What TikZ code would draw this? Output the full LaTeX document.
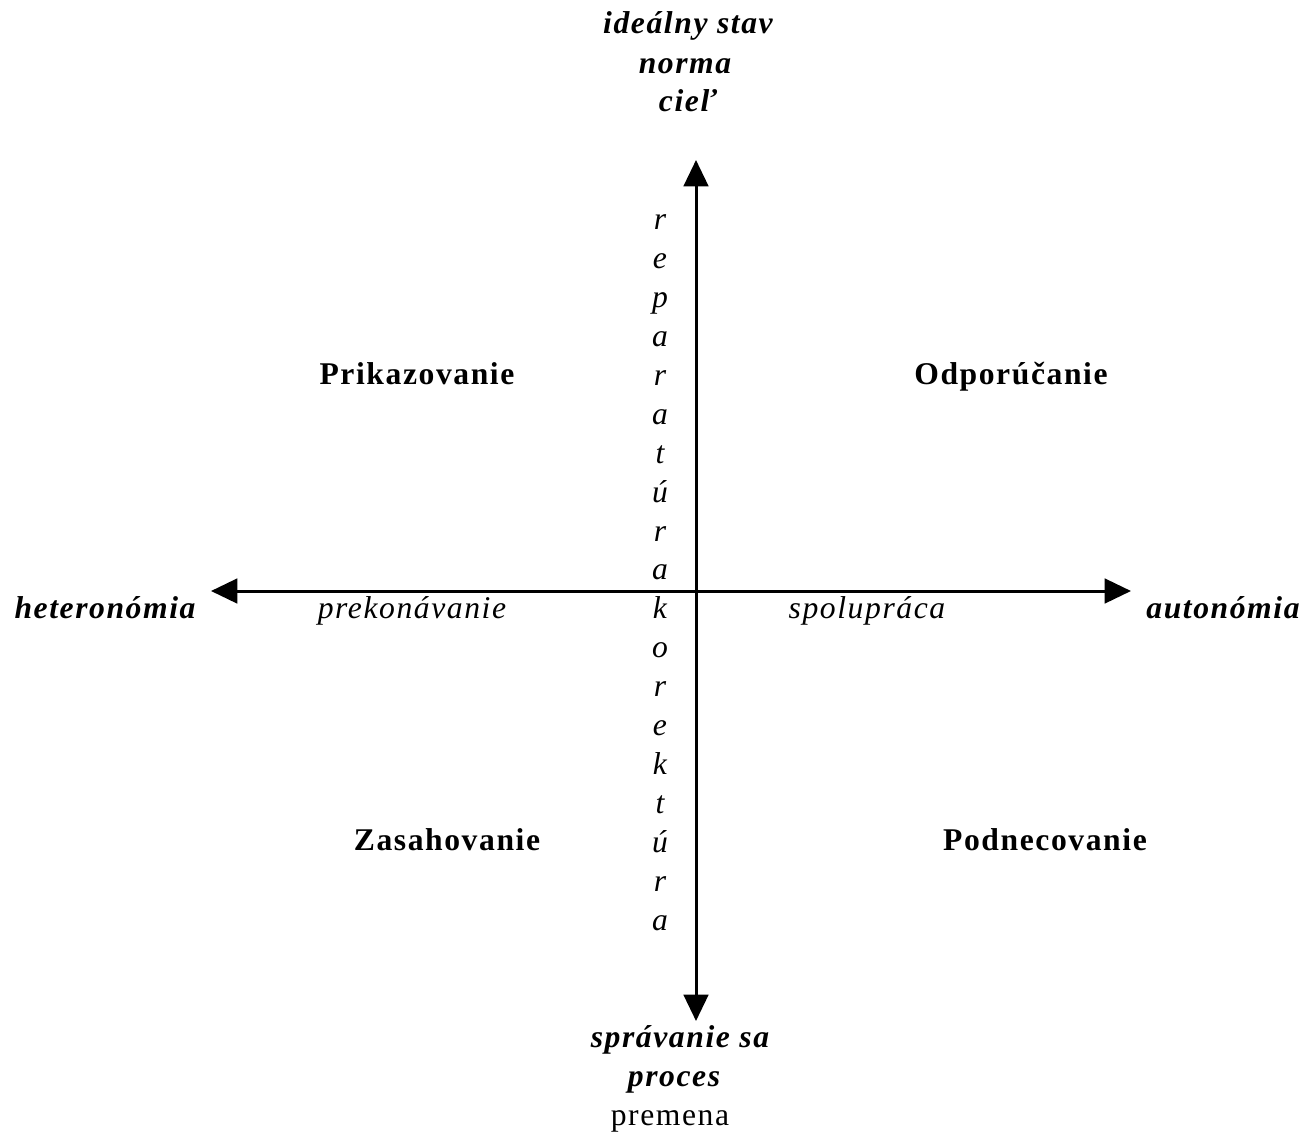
\documentclass[tikz,border=0pt]{standalone}
\usepackage{fontspec}
\setmainfont{Liberation Serif}[LetterSpace=5]
\usetikzlibrary{arrows.meta, positioning}

\tikzset{
  axis/.style={line width=1.7pt, {Triangle[length=15pt, width=14pt]}-{Triangle[length=15pt, width=14pt]}},
  txt/.style={inner sep=0pt, text height=1.4ex, text depth=0.25ex, yshift=-2.8pt, font=\fontsize{18}{22}\selectfont},
  pole/.style={txt, font=\fontsize{18}{22}\selectfont\bfseries\itshape},
  quadrant/.style={txt, font=\fontsize{18}{22}\selectfont\bfseries},
  process/.style={txt, font=\fontsize{18}{22}\selectfont\itshape},
  letter/.style={txt, font=\fontsize{18}{22}\selectfont\itshape}
}

\begin{document}
\begin{tikzpicture}[x=0.02cm, y=-0.02cm]

% Frame of the picture
\useasboundingbox (0,0) rectangle (1305,1133);

% Axis ends
\coordinate (top) at (696,160);
\coordinate (bottom) at (696,1021);
\coordinate (left) at (211,591);
\coordinate (right) at (1131,591);

% Axes
\draw[axis] (left) -- (right);
\draw[axis] (bottom) -- (top);

% Poles of the vertical axis
\node[pole] (ideal) at (688,24) {ideálny stav};
\node[pole] (norma) at (685,64) {norma};
\node[pole] (ciel) at (688,102) {cieľ};
\node[pole] (spravanie) at (680,1038) {správanie sa};
\node[pole] (proces) at (674,1077) {proces};
\node[txt] (premena) at (670,1116) {premena};

% Poles of the horizontal axis
\node[pole] (hetero) at (105,609) {heteronómia};
\node[pole] (auto) at (1223,609) {autonómia};

% Processes along the axes
\node[process] (prekon) at (412,609) {prekonávanie};
\node[process] (spolu) at (867,609) {spolupráca};

% Vertical word
\foreach \ch [count=\i] in {r,e,p,a,r,a,t,ú,r,a,k,o,r,e,k,t,ú,r,a} {
    \node[letter] (v\i) at (660,{181+38.94*\i}) {\ch};
}

% Quadrants
\node[quadrant] (prikaz) at (417,375) {Prikazovanie};
\node[quadrant] (odpor) at (1011,375) {Odporúčanie};
\node[quadrant] (zasah) at (447,841) {Zasahovanie};
\node[quadrant] (podnet) at (1045,841) {Podnecovanie};

\end{tikzpicture}
\end{document}
